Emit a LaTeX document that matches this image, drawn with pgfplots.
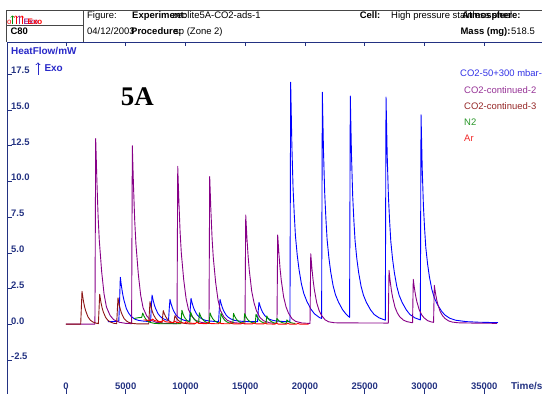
\documentclass[border=0pt]{standalone}
\usepackage{fontspec}
\setmainfont{Liberation Sans}
\newfontfamily\timesfont{Liberation Serif}
\usepackage{pgfplots}
\pgfplotsset{compat=1.18}
\definecolor{axnavy}{RGB}{35,50,130}
\definecolor{lblblue}{RGB}{40,40,200}
\definecolor{cblue}{RGB}{0,0,255}
\definecolor{cpurple}{RGB}{135,0,135}
\definecolor{cmaroon}{RGB}{140,20,20}
\definecolor{cgreen}{RGB}{0,140,0}
\definecolor{cred}{RGB}{255,0,0}
\definecolor{tpurple}{RGB}{150,50,150}
\definecolor{tmaroon}{RGB}{150,40,40}
\definecolor{tgreen}{RGB}{40,150,40}
\definecolor{tred}{RGB}{240,40,40}
\definecolor{tblue}{RGB}{50,50,230}
\definecolor{hdr}{RGB}{70,70,70}
\newcommand\hfont{\fontsize{9.5}{11}\selectfont}
\newcommand\lfont{\bfseries\fontsize{10}{12}\selectfont}
\begin{document}
\begin{tikzpicture}
\path[use as bounding box] (0,0) rectangle (542bp,394bp);
\begin{axis}[
  at={(7.3bp,0bp)}, anchor=south west, scale only axis,
  width=534.7bp, height=352bp,
  xmin=-4912, xmax=39833, ymin=-4.86, ymax=19.755,
  axis line style={draw=none},
  xtick={0,5000,...,35000}, ytick={-2.5,0,...,17.5},
  xtick pos=both, ytick pos=left, xticklabel pos=bottom, yticklabel pos=left,
  tick align=inside, major tick length=4.5bp,
  tick style={draw=axnavy, line width=0.9bp},
  scaled ticks=false,
  /pgf/number format/assume math mode=true,
  xticklabel style={/pgf/number format/1000 sep={}, font=\bfseries\fontsize{9.5}{11}\selectfont, text=axnavy, anchor=base, inner sep=0pt, yshift=5bp},
  yticklabel style={/pgf/number format/fixed, /pgf/number format/fixed zerofill, /pgf/number format/precision=1, font=\bfseries\fontsize{9.5}{11}\selectfont, text=axnavy, anchor=base west, inner sep=0pt, xshift=3.7bp, yshift=0.5bp},
  no markers, every axis plot/.append style={line width=0.9bp, line join=round},
]
% CO2-50+300 mbar-
\addplot[cblue] coordinates {(3500,0.2) (4300,0.22) (4420,0.25) (4490,1.8) (4545,3.30) (4645,2.65) (4745,2.12) (4845,1.72) (5045,1.13) (5245,0.79) (5445,0.57) (5745,0.38) (6045,0.29) (6545,0.23) (7080,0.21) (7140,1.2) (7200,2.06) (7300,1.67) (7400,1.35) (7500,1.11) (7700,0.76) (7900,0.55) (8100,0.42) (8400,0.31) (8580,0.28) (8640,1.1) (8700,1.76) (8800,1.43) (8900,1.17) (9000,0.96) (9200,0.67) (9400,0.50) (9600,0.39) (9900,0.29) (10200,0.25) (10340,0.24) (10400,1.1) (10460,1.83) (10560,1.49) (10660,1.21) (10760,1.00) (10960,0.69) (11160,0.51) (11360,0.40) (11660,0.29) (11960,0.25) (12460,0.21) (12770,0.2) (12830,1.1) (12890,1.76) (12990,1.43) (13090,1.17) (13190,0.96) (13390,0.67) (13590,0.50) (13790,0.39) (14090,0.29) (14390,0.25) (14890,0.21) (15500,0.2) (16030,0.2) (16090,1.0) (16150,1.55) (16250,1.27) (16350,1.04) (16450,0.86) (16650,0.61) (16850,0.46) (17050,0.36) (17350,0.28) (17650,0.24) (18150,0.21) (18740,0.2) (18800,16.94) (18900,12.58) (19000,9.56) (19100,7.71) (19200,6.20) (19350,4.85) (19500,3.85) (19700,2.84) (19900,2.17) (20150,1.63) (20500,1.07) (20800,0.74) (21200,0.49) (21390,0.42) (21450,16.24) (21550,12.06) (21650,9.16) (21750,7.39) (21850,5.94) (22000,4.66) (22150,3.69) (22350,2.72) (22550,2.08) (22800,1.57) (23150,1.03) (23450,0.71) (23730,0.5) (23790,15.98) (23890,11.86) (23990,9.01) (24090,7.27) (24190,5.85) (24340,4.58) (24490,3.63) (24690,2.68) (24890,2.05) (25140,1.54) (25490,1.02) (25790,0.70) (26190,0.47) (26720,0.3) (26780,15.91) (26880,11.81) (26980,8.98) (27080,7.24) (27180,5.82) (27330,4.56) (27480,3.62) (27680,2.67) (27880,2.04) (28130,1.54) (28480,1.02) (28780,0.70) (29180,0.47) (29650,0.32) (29710,14.67) (29810,10.89) (29910,8.28) (30010,6.68) (30110,5.38) (30260,4.22) (30410,3.34) (30610,2.47) (30810,1.89) (31060,1.43) (31410,0.95) (31710,0.66) (32110,0.44) (32600,0.3) (33500,0.2) (34500,0.16) (36150,0.13)};
% CO2-continued-2
\addplot[cpurple] coordinates {(0,0.03) (2420,0.03) (2485,13.0) (2585,10.05) (2685,7.59) (2785,5.90) (2985,3.69) (3185,2.13) (3385,1.22) (3685,0.64) (3985,0.34) (4485,0.15) (5000,0.08) (5490,0.06) (5550,12.5) (5650,9.64) (5750,7.27) (5850,5.65) (6050,3.54) (6250,2.04) (6450,1.17) (6750,0.61) (7050,0.32) (7550,0.15) (8200,0.08) (9290,0.06) (9350,11.06) (9450,8.53) (9550,6.44) (9650,5.00) (9850,3.13) (10050,1.81) (10250,1.04) (10550,0.55) (10850,0.29) (11350,0.14) (11965,0.08) (12025,10.34) (12125,7.97) (12225,6.02) (12325,4.68) (12525,2.93) (12725,1.70) (12925,0.98) (13225,0.51) (13525,0.28) (14025,0.13) (14980,0.06) (15040,7.66) (15140,6.06) (15240,4.77) (15340,3.78) (15540,2.33) (15740,1.50) (15940,0.96) (16240,0.48) (16540,0.26) (17040,0.12) (17655,0.07) (17715,6.26) (17815,4.96) (17915,3.90) (18015,3.09) (18215,1.91) (18415,1.23) (18615,0.80) (18915,0.40) (19215,0.22) (19715,0.11) (20420,0.07) (20480,4.95) (20580,3.92) (20680,3.09) (20780,2.45) (20980,1.52) (21180,0.98) (21380,0.64) (21680,0.33) (21980,0.19) (22480,0.12) (24000,0.11) (26970,0.1) (27030,3.79) (27130,3.02) (27230,2.39) (27330,1.91) (27530,1.21) (27730,0.80) (27930,0.54) (28230,0.31) (28530,0.20) (29000,0.12) (29060,3.16) (29160,2.52) (29260,2.00) (29360,1.60) (29560,1.02) (29760,0.68) (29960,0.47) (30260,0.27) (30560,0.18) (30760,0.15) (30820,2.74) (30920,2.19) (31020,1.74) (31120,1.39) (31320,0.89) (31520,0.60) (31720,0.42) (32020,0.25) (32320,0.17) (32820,0.12) (34000,0.1) (36050,0.08)};
% CO2-continued-3
\addplot[cmaroon] coordinates {(0,0.03) (1230,0.03) (1340,2.32) (1440,1.73) (1540,1.29) (1640,0.97) (1840,0.53) (2040,0.30) (2240,0.18) (2540,0.09) (2710,0.06) (2820,2.11) (2920,1.57) (3020,1.17) (3120,0.88) (3320,0.49) (3520,0.28) (3720,0.17) (4020,0.08) (4240,0.06) (4350,1.87) (4450,1.39) (4550,1.04) (4650,0.78) (4850,0.43) (5050,0.25) (5250,0.15) (5550,0.08) (6000,0.04) (6920,0.04) (7030,1.60) (7130,1.19) (7230,0.89) (7330,0.67) (7530,0.38) (7730,0.22) (7930,0.12) (8030,0.1) (8140,0.97) (8240,0.73) (8340,0.55) (8440,0.42) (8640,0.24) (8840,0.14) (9010,0.1) (9120,0.62) (9220,0.47) (9320,0.36) (9420,0.27) (9620,0.16) (9820,0.09) (10200,0.05) (10800,0.04)};
% N2
\addplot[cgreen] coordinates {(5700,0.42) (6000,0.47) (6340,0.5) (6420,0.80) (6520,0.6) (6620,0.45) (6720,0.33) (6870,0.22) (7070,0.14) (7400,0.08) (8000,0.05) (9000,0.05) (9620,0.06) (9700,1.0) (9800,0.73) (9900,0.53) (10000,0.40) (10150,0.26) (10370,0.16) (10430,0.86) (10530,0.65) (10630,0.48) (10730,0.36) (10880,0.24) (11100,0.13) (11160,0.82) (11260,0.6) (11360,0.44) (11460,0.33) (11610,0.22) (11810,0.13) (11990,0.09) (12050,0.82) (12150,0.6) (12250,0.44) (12350,0.33) (12500,0.22) (12700,0.13) (12910,0.09) (12970,0.78) (13070,0.57) (13170,0.42) (13270,0.31) (13420,0.2) (13620,0.12) (13850,0.08) (13960,0.07) (14020,0.78) (14120,0.57) (14220,0.42) (14320,0.31) (14470,0.2) (14670,0.12) (14890,0.08) (14950,0.76) (15050,0.56) (15150,0.41) (15250,0.3) (15400,0.2) (15600,0.12) (15840,0.08) (15900,0.72) (16000,0.53) (16100,0.39) (16200,0.29) (16350,0.19) (16550,0.11) (16740,0.08) (16800,0.6) (16900,0.44) (17000,0.33) (17100,0.25) (17250,0.17) (17450,0.1) (17590,0.08) (17650,0.42) (17750,0.32) (17850,0.24) (17950,0.19) (18100,0.13) (18300,0.09) (18420,0.07) (18480,0.32) (18580,0.24) (18680,0.18) (18800,0.13) (19000,0.09) (19200,0.07)};
% Ar
\addplot[cred] coordinates {(6500,0.32) (6800,0.30) (7100,0.27) (7250,0.38) (7400,0.28) (7700,0.22) (8000,0.2) (8150,0.3) (8300,0.2) (8700,0.15) (9000,0.14) (9100,0.24) (9250,0.14) (9700,0.11) (9950,0.1) (10050,0.2) (10200,0.11) (10700,0.08) (10850,0.07) (10950,0.17) (11100,0.08) (11600,0.06) (11800,0.06) (11900,0.16) (12050,0.07) (12600,0.05) (12750,0.05) (12850,0.15) (13000,0.06) (13500,0.05) (13700,0.05) (13800,0.14) (13950,0.05) (14500,0.04) (14650,0.04) (14750,0.13) (14900,0.05) (15400,0.04) (15600,0.04) (15700,0.12) (15850,0.05) (16400,0.04) (16550,0.04) (16650,0.12) (16800,0.04) (17300,0.03) (17500,0.03) (17600,0.1) (17750,0.03) (18300,0.03) (18450,0.03) (18550,0.09) (18700,0.03) (19300,0.03) (19400,0.08) (19550,0.03) (20300,0.02)};
\end{axis}
% axis lines (left and top)
\draw[axnavy, line width=0.9bp] (7.3bp,0bp) -- (7.3bp,352bp) -- (548bp,352bp);
% header box
\draw[hdr, line width=0.8bp] (6.5bp,352bp) -- (6.5bp,383.6bp) -- (548bp,383.6bp);
\draw[hdr, line width=0.8bp] (83.4bp,352bp) -- (83.4bp,383.6bp);
\draw[hdr, line width=0.8bp] (6.5bp,368.6bp) -- (83.4bp,368.6bp);
\begin{scope}[every node/.style={anchor=base west, inner sep=0pt}]
% header texts
\node[font=\hfont] at (87bp,375.6bp) {Figure:};
\node[font=\hfont] at (172bp,375.6bp) {zeolite5A-CO2-ads-1};
\node[font=\hfont\bfseries] at (132bp,375.6bp) {Experiment:};
\node[font=\hfont\bfseries] at (359.6bp,375.6bp) {Cell:};
\node[font=\hfont] at (391bp,375.6bp) {High pressure stainless steel};
\node[font=\hfont\bfseries] at (462bp,375.6bp) {Atmosphere:};
\node[font=\hfont] at (87bp,359.3bp) {04/12/2003};
\node[font=\hfont] at (174bp,359.3bp) {sp (Zone 2)};
\node[font=\hfont\bfseries] at (131bp,359.3bp) {Procedure:};
\node[font=\hfont\bfseries] at (460.4bp,359.3bp) {Mass (mg):};
\node[font=\hfont] at (511bp,359.3bp) {518.5};
\node[font=\hfont\bfseries] at (10.4bp,359.3bp) {C80};
% logo
\node[font=\fontsize{8}{9}\selectfont, text=cred] at (7bp,369.5bp) {o};
\node[font=\bfseries\fontsize{8}{9}\selectfont, text=tpurple] at (23.5bp,369.5bp) {Exo};
\node[font=\bfseries\fontsize{8}{9}\selectfont, text=cred] at (27.5bp,369.5bp) {Exo};
% axis labels
\node[font=\lfont, text=lblblue] at (11bp,339bp) {HeatFlow/mW};
\node[font=\lfont, text=lblblue] at (44.3bp,322bp) {Exo};
\node[font=\lfont, text=axnavy] at (510.8bp,5bp) {Time/s};
% panel label
\node[font=\timesfont\bfseries\fontsize{27}{30}\selectfont] at (120.7bp,288.3bp) {5A};
% legend
\node[font=\hfont, text=tblue] at (460bp,317.3bp) {CO2-50+300 mbar-};
\node[font=\hfont, text=tpurple] at (464bp,300.6bp) {CO2-continued-2};
\node[font=\hfont, text=tmaroon] at (464bp,284.9bp) {CO2-continued-3};
\node[font=\hfont, text=tgreen] at (464bp,268.9bp) {N2};
\node[font=\hfont, text=tred] at (464bp,252.9bp) {Ar};
\end{scope}
\draw[cgreen, line width=0.6bp, ->] (12.5bp,369.5bp) -- (12.5bp,378.5bp);
\draw[cred, line width=0.6bp, ->] (15.8bp,369.5bp) -- (15.8bp,378.5bp);
\draw[tpurple, line width=0.6bp, ->] (19.3bp,369.5bp) -- (19.3bp,378.5bp);
\draw[cred, line width=0.6bp, ->] (22bp,369.5bp) -- (22bp,378.5bp);
\draw[lblblue, line width=0.8bp, ->] (38bp,319bp) -- (38bp,331.5bp);
\end{tikzpicture}
\end{document}
